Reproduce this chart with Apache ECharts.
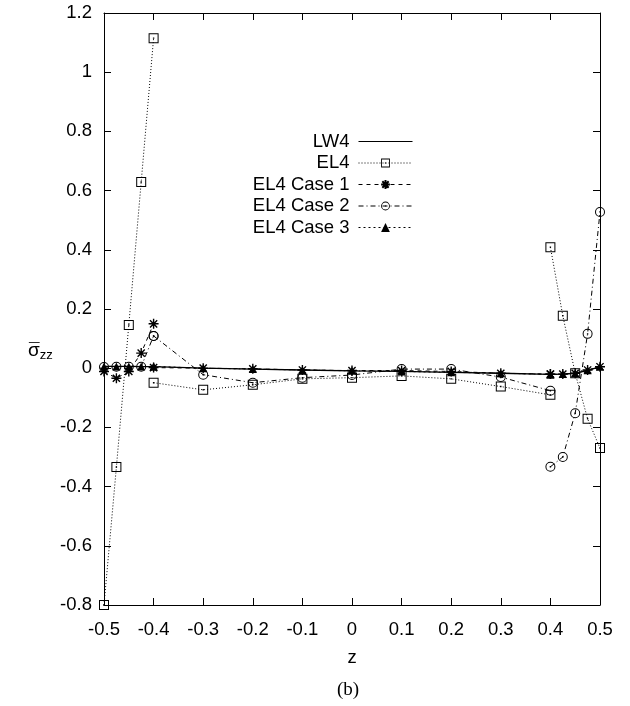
<!DOCTYPE html>
<html>
<head>
<meta charset="utf-8">
<script src="https://cdn.jsdelivr.net/npm/echarts@6/dist/echarts.min.js"></script>
<style>
  html, body { margin: 0; padding: 0; background: #fff; }
  #chart { width: 630px; height: 706px; }
</style>
</head>
<body>
<div id="chart"></div>
<script>
// Through-thickness sampling points, one array per layer
const zLayer1 = [-0.5, -0.475, -0.45, -0.425, -0.4];
const zLayer2 = [-0.4, -0.3, -0.2, -0.1, 0, 0.1, 0.2, 0.3, 0.4];
const zLayer3 = [0.4, 0.425, 0.45, 0.475, 0.5];

// Transverse normal stress per model, split by layer
const lw4L1 = [0.006, 0.006, 0.006, 0.005, 0.005];
const lw4L2 = [0.005, 0.0, -0.003, -0.006, -0.009, -0.011, -0.014, -0.017, -0.021];
const lw4L3 = [-0.021, -0.02, -0.017, -0.008, 0.005];

const el4L1 = [-0.8, -0.334, 0.146, 0.629, 1.115];
const el4L2 = [-0.049, -0.073, -0.056, -0.036, -0.032, -0.026, -0.036, -0.062, -0.09];
const el4L3 = [0.409, 0.177, -0.017, -0.171, -0.27];

const case1L1 = [-0.011, -0.034, -0.011, 0.051, 0.15];
const case1L2 = [0.002, 0.0, -0.002, -0.006, -0.008, -0.008, -0.011, -0.017, -0.02];
const case1L3 = [-0.02, -0.02, -0.017, -0.006, 0.005];

const case2L1 = [0.004, 0.005, 0.005, 0.005, 0.109];
const case2L2 = [0.109, -0.022, -0.049, -0.032, -0.023, -0.003, -0.003, -0.03, -0.076];
const case2L3 = [-0.333, -0.3, -0.152, 0.116, 0.528];

const case3L1 = [0.006, 0.006, 0.006, 0.006, 0.006];
const case3L2 = [0.006, 0.0, -0.003, -0.006, -0.009, -0.011, -0.014, -0.017, -0.021];
const case3L3 = [-0.021, -0.02, -0.017, -0.007, 0.005];

const seriesNames = ['LW4', 'EL4', 'EL4 Case 1', 'EL4 Case 2', 'EL4 Case 3'];

// Join the layers into one polyline, lifting the pen at each interface
function layered(l1, l2, l3) {
  const parts = [[zLayer1, l1], [zLayer2, l2], [zLayer3, l3]];
  const out = [];
  parts.forEach(([z, v], i) => {
    if (i > 0) out.push([z[0], '-']);
    z.forEach((zz, k) => out.push([zz, v[k]]));
  });
  return out;
}

// Gnuplot-like point shapes (open square / open circle with a centre dot, asterisk)
const SQUARE = 'path://M-5,-5L5,-5L5,5L-5,5ZM-4,-4L-4,4L4,4L4,-4ZM-0.7,-0.7L0.7,-0.7L0.7,0.7L-0.7,0.7Z';
const CIRCLE = 'path://M5,0A5,5,0,1,1,-5,0A5,5,0,1,1,5,0ZM4,0A4,4,0,1,0,-4,0A4,4,0,1,0,4,0ZM-0.7,-0.7L0.7,-0.7L0.7,0.7L-0.7,0.7Z';
const STAR = 'path://M0,-5L0,5M-5,0L5,0M-3.6,-3.6L3.6,3.6M-3.6,3.6L3.6,-3.6';

const FONT = 'Liberation Sans';
const FS = 18.5;

function axisCommon(extra) {
  return Object.assign({
    type: 'value',
    axisLine: { show: true, onZero: false, lineStyle: { color: '#000', width: 1 } },
    axisTick: { show: true, inside: true, length: 7, lineStyle: { color: '#000', width: 1 } },
    splitLine: { show: false }
  }, extra);
}

const chart = echarts.init(document.getElementById('chart'), null, { renderer: 'canvas' });

chart.setOption({
  animation: false,
  backgroundColor: '#fff',
  grid: { left: 104, right: 30, top: 13, bottom: 101, containLabel: false },
  xAxis: [
    axisCommon({
      position: 'bottom', min: -0.5, max: 0.5, interval: 0.1,
      axisLabel: { color: '#000', fontFamily: FONT, fontSize: FS, margin: 15 },
      name: 'z', nameLocation: 'middle', nameGap: 43,
      nameTextStyle: { color: '#000', fontFamily: FONT, fontSize: FS }
    }),
    axisCommon({
      position: 'top', min: -0.5, max: 0.5, interval: 0.1,
      axisLabel: { show: false }
    })
  ],
  yAxis: [
    axisCommon({
      position: 'left', min: -0.8, max: 1.2, interval: 0.2,
      axisLabel: { color: '#000', fontFamily: FONT, fontSize: FS, margin: 12 }
    }),
    axisCommon({
      position: 'right', min: -0.8, max: 1.2, interval: 0.2,
      axisLabel: { show: false }
    })
  ],
  legend: {
    orient: 'vertical',
    align: 'right',
    right: 212,
    top: 127,
    itemWidth: 54,
    itemHeight: 11,
    itemGap: 2.5,
    data: [
      // the solid reference curve has no point marker
      { name: seriesNames[0], itemStyle: { color: 'transparent', borderWidth: 0, opacity: 0 } },
      seriesNames[1], seriesNames[2], seriesNames[3], seriesNames[4]
    ],
    lineStyle: { width: 1 },
    textStyle: { color: '#000', fontFamily: FONT, fontSize: FS, padding: [0, 4, 0, 0] }
  },
  graphic: [
    {
      type: 'text',
      left: 28,
      top: 341,
      style: {
        text: '{s|σ}{sub|zz}',
        rich: {
          s: { fontFamily: FONT, fontSize: 19, fill: '#000' },
          sub: { fontFamily: FONT, fontSize: 13, fill: '#000', verticalAlign: 'bottom', padding: [9, 0, 0, 0] }
        }
      }
    },
    {
      // bar over the sigma
      type: 'text',
      left: 29,
      top: 341,
      style: { text: '¯', fontFamily: FONT, fontSize: 19, fill: '#000' }
    },
    {
      type: 'text',
      x: 348,
      y: 690,
      style: {
        text: '(b)',
        fontFamily: 'Liberation Serif',
        fontSize: 19,
        fill: '#000',
        align: 'center',
        verticalAlign: 'middle'
      }
    }
  ],
  series: [
    {
      name: seriesNames[0], type: 'line',
      data: layered(lw4L1, lw4L2, lw4L3),
      symbol: 'none',
      color: '#000',
      lineStyle: { color: '#000', width: 1.3, type: 'solid' }
    },
    {
      name: seriesNames[1], type: 'line',
      data: layered(el4L1, el4L2, el4L3),
      symbol: SQUARE, symbolSize: 10,
      color: '#000',
      itemStyle: { color: '#000', borderWidth: 0 },
      lineStyle: { color: '#000', width: 1, type: [1, 2] }
    },
    {
      name: seriesNames[2], type: 'line',
      data: layered(case1L1, case1L2, case1L3),
      symbol: STAR, symbolSize: 10,
      color: '#000',
      itemStyle: { color: '#000', borderColor: '#000', borderWidth: 1.4 },
      lineStyle: { color: '#000', width: 1, type: [4, 4] }
    },
    {
      name: seriesNames[3], type: 'line',
      data: layered(case2L1, case2L2, case2L3),
      symbol: CIRCLE, symbolSize: 10,
      color: '#000',
      itemStyle: { color: '#000', borderWidth: 0 },
      lineStyle: { color: '#000', width: 1, type: [5, 3, 1, 3] }
    },
    {
      name: seriesNames[4], type: 'line',
      data: layered(case3L1, case3L2, case3L3),
      symbol: 'triangle', symbolSize: 8,
      color: '#000',
      itemStyle: { color: '#000', borderWidth: 0 },
      lineStyle: { color: '#000', width: 1, type: [2, 3] }
    }
  ]
});
</script>
</body>
</html>
